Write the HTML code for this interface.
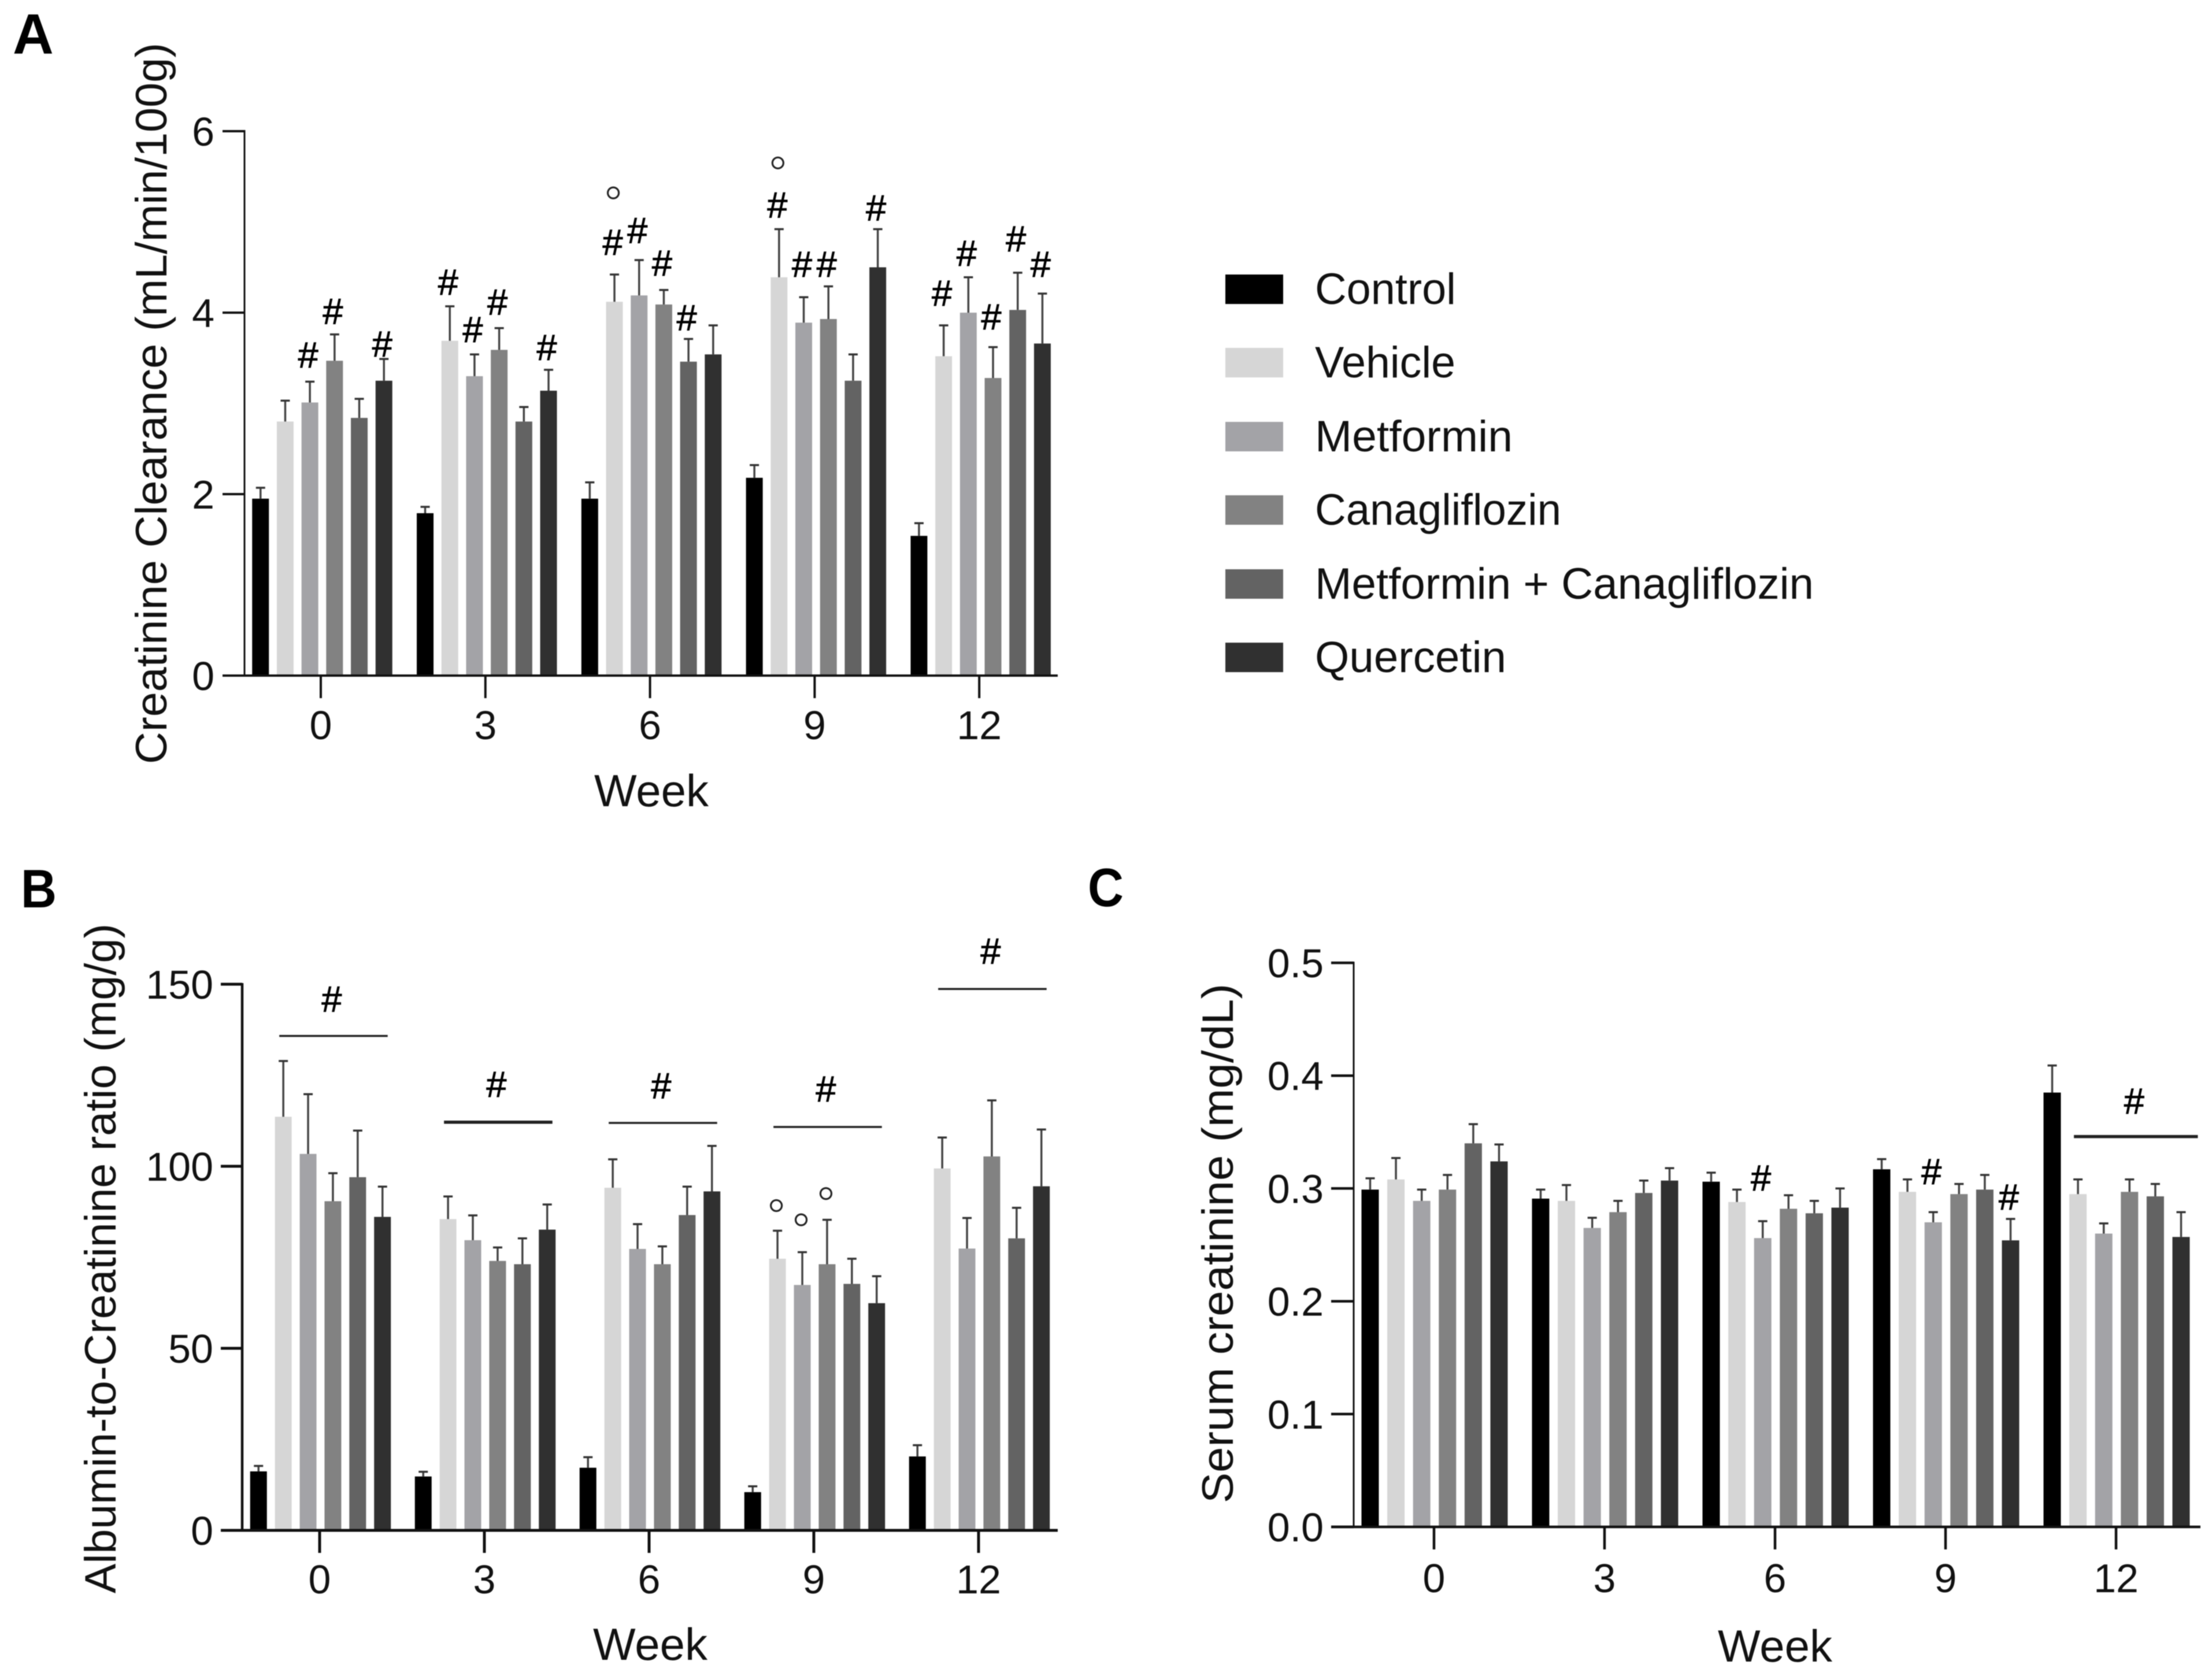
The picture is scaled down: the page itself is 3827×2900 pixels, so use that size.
<!DOCTYPE html>
<html lang="en">
<head>
<meta charset="utf-8">
<title>Renal function bar charts</title>
<style>
html,body{margin:0;padding:0;background:#fff;}
svg{display:block;font-family:"Liberation Sans",Arial,sans-serif;filter:blur(0.9px);}
</style>
</head>
<body>
<svg id="figure" xmlns="http://www.w3.org/2000/svg" width="3827" height="2900" viewBox="0 0 3827 2900">
  <rect x="0" y="0" width="3827" height="2900" fill="#ffffff"/>
  <text x="22" y="93" font-size="98" font-weight="700" fill="#000">A</text>
  <text x="36" y="1570" font-size="94" font-weight="700" textLength="62" lengthAdjust="spacingAndGlyphs" fill="#000">B</text>
  <text x="1882" y="1568" font-size="94" font-weight="700" textLength="62" lengthAdjust="spacingAndGlyphs" fill="#000">C</text>

  <text transform="translate(288,1322) rotate(-90)" font-size="76" textLength="1248" lengthAdjust="spacingAndGlyphs" fill="#111">Creatinine Clearance (mL/min/100g)</text>
  <text x="1127" y="1395" font-size="78" text-anchor="middle" fill="#111">Week</text>
  <text transform="translate(200,2757) rotate(-90)" font-size="76" textLength="1159" lengthAdjust="spacingAndGlyphs" fill="#111">Albumin-to-Creatinine ratio (mg/g)</text>
  <text x="1125" y="2872" font-size="78" text-anchor="middle" fill="#111">Week</text>
  <text transform="translate(2133,2601) rotate(-90)" font-size="76" textLength="899" lengthAdjust="spacingAndGlyphs" fill="#111">Serum creatinine (mg/dL)</text>
  <text x="3071" y="2875" font-size="78" text-anchor="middle" fill="#111">Week</text>

  <g id="legend">
    <rect x="2120" y="475" width="100" height="51" fill="#000000"/>
    <text x="2275" y="526" font-size="76" textLength="244" lengthAdjust="spacingAndGlyphs" fill="#111">Control</text>
    <rect x="2120" y="602" width="100" height="51" fill="#d6d6d6"/>
    <text x="2275" y="653" font-size="76" textLength="243" lengthAdjust="spacingAndGlyphs" fill="#111">Vehicle</text>
    <rect x="2120" y="730" width="100" height="51" fill="#a3a3a7"/>
    <text x="2275" y="781" font-size="76" textLength="342" lengthAdjust="spacingAndGlyphs" fill="#111">Metformin</text>
    <rect x="2120" y="857" width="100" height="51" fill="#828282"/>
    <text x="2275" y="908" font-size="76" textLength="426" lengthAdjust="spacingAndGlyphs" fill="#111">Canagliflozin</text>
    <rect x="2120" y="985" width="100" height="51" fill="#636363"/>
    <text x="2275" y="1036" font-size="76" textLength="863" lengthAdjust="spacingAndGlyphs" fill="#111">Metformin + Canagliflozin</text>
    <rect x="2120" y="1112" width="100" height="51" fill="#303030"/>
    <text x="2275" y="1163" font-size="76" textLength="331" lengthAdjust="spacingAndGlyphs" fill="#111">Quercetin</text>
  </g>
</svg>
<script>
// ---- shared categories ----
const weeks = ['0', '3', '6', '9', '12'];
const seriesNames = ['control', 'vehicle', 'metformin', 'canagliflozin', 'metformin-canagliflozin', 'quercetin'];
const seriesColors = ['#000000', '#d6d6d6', '#a3a3a7', '#828282', '#636363', '#303030'];

// ---- panel A: creatinine clearance ----
const clearanceTicks = ['0', '2', '4', '6'];
const clearanceMeans = [
  [1.95, 2.80, 3.01, 3.47, 2.84, 3.25],
  [1.79, 3.69, 3.30, 3.59, 2.80, 3.14],
  [1.95, 4.12, 4.19, 4.09, 3.46, 3.54],
  [2.18, 4.39, 3.89, 3.93, 3.25, 4.50],
  [1.54, 3.52, 4.00, 3.28, 4.03, 3.66]
];
const clearanceErrorTops = [
  [2.07, 3.03, 3.24, 3.76, 3.05, 3.49],
  [1.86, 4.07, 3.54, 3.83, 2.96, 3.37],
  [2.13, 4.42, 4.58, 4.25, 3.71, 3.86],
  [2.32, 4.92, 4.17, 4.29, 3.54, 4.92],
  [1.68, 3.86, 4.39, 3.62, 4.44, 4.21]
];
// [week index, series index, height in axis units]
const clearanceHashes = [
  [0,2,3.53],[0,3,4.01],[0,5,3.65],
  [1,1,4.33],[1,2,3.81],[1,3,4.11],[1,5,3.61],
  [2,1,4.77],[2,2,4.90],[2,3,4.54],[2,4,3.94],
  [3,1,5.18],[3,2,4.53],[3,3,4.53],[3,5,5.15],
  [4,1,4.21],[4,2,4.65],[4,3,3.95],[4,4,4.81],[4,5,4.53]
];
const clearanceCircles = [[2,1,5.32],[3,1,5.65]];
const clearanceBrackets = [];

// ---- panel B: albumin-to-creatinine ratio ----
const ratioTicks = ['0', '50', '100', '150'];
const ratioMeans = [
  [16.2, 113.6, 103.4, 90.4, 97.0, 86.1],
  [14.8, 85.5, 79.7, 74.0, 73.1, 82.6],
  [17.2, 94.1, 77.3, 73.1, 86.6, 93.1],
  [10.5, 74.6, 67.4, 73.1, 67.7, 62.4],
  [20.3, 99.4, 77.4, 102.7, 80.2, 94.5]
];
const ratioErrorTops = [
  [17.7, 128.9, 119.8, 98.1, 109.8, 94.4],
  [16.1, 91.7, 86.5, 77.7, 80.2, 89.5],
  [20.1, 101.9, 84.1, 78.0, 94.4, 105.6],
  [12.1, 82.3, 76.4, 85.3, 74.6, 69.8],
  [23.4, 107.9, 85.8, 118.1, 88.6, 110.1]
];
const ratioHashes = [];
const ratioCircles = [[3,1,89.2],[3,2,85.3],[3,3,92.5]];
// [week index, line height, hash height]
const ratioBrackets = [
  [0,135.8,145.8],[1,112.1,122.4],[2,111.9,122.0],[3,110.8,121.1],[4,148.7,159.0]
];

// ---- panel C: serum creatinine ----
const serumTicks = ['0.0', '0.1', '0.2', '0.3', '0.4', '0.5'];
const serumMeans = [
  [0.299, 0.308, 0.289, 0.299, 0.340, 0.324],
  [0.291, 0.289, 0.265, 0.279, 0.296, 0.307],
  [0.306, 0.288, 0.256, 0.282, 0.278, 0.283],
  [0.317, 0.297, 0.270, 0.295, 0.299, 0.254],
  [0.385, 0.295, 0.260, 0.297, 0.293, 0.257]
];
const serumErrorTops = [
  [0.309, 0.327, 0.299, 0.312, 0.357, 0.339],
  [0.299, 0.303, 0.274, 0.289, 0.307, 0.318],
  [0.314, 0.299, 0.271, 0.294, 0.289, 0.300],
  [0.326, 0.308, 0.279, 0.304, 0.312, 0.273],
  [0.409, 0.308, 0.269, 0.308, 0.304, 0.279]
];
const serumHashes = [[2,2,0.309],[3,2,0.3145],[3,5,0.292]];
const serumCircles = [];
const serumBrackets = [[4,0.346,0.377]];

const SVGNS = 'http://www.w3.org/2000/svg';
const figure = document.getElementById('figure');

function make(parent, tag, attrs, text) {
  const node = document.createElementNS(SVGNS, tag);
  for (const k in attrs) node.setAttribute(k, attrs[k]);
  if (text !== undefined) node.textContent = text;
  parent.appendChild(node);
  return node;
}

function drawPanel(p) {
  const group = make(figure, 'g', {});
  
  

  const tickValues = p.ticks.map(Number);
  const domainMax = tickValues[tickValues.length - 1];
  const yScale = function (v) { return p.y0 - (v / domainMax) * (p.y0 - p.yTop); };
  const tickX = function (g) { return p.firstTick + g * p.tickStep; };
  const barX = function (g, s) { return tickX(g) + p.barShift + (s - 2.5) * p.barPitch; };

  // bars and error bars
  p.means.forEach(function (row, g) {
    row.forEach(function (value, s) {
      const cx = barX(g, s);
      const bar = make(group, 'rect', {
        x: cx - p.barWidth / 2, y: yScale(value),
        width: p.barWidth, height: p.y0 - yScale(value),
        fill: seriesColors[s]
      });
      
      

      const top = yScale(p.errorTops[g][s]);
      const stem = make(group, 'line', {
        x1: cx, x2: cx, y1: top, y2: yScale(value),
        stroke: '#444444', 'stroke-width': 3.5
      });
      
      

      const cap = make(group, 'line', {
        x1: cx - 8, x2: cx + 8, y1: top, y2: top,
        stroke: '#333333', 'stroke-width': 3.5
      });
      
      
    });
  });

  // axes
  const yAxis = make(group, 'line', {
    x1: p.axisX, x2: p.axisX, y1: p.yTop - 2, y2: p.y0 + 2,
    stroke: '#111', 'stroke-width': p.yAxisWidth
  });
  
  

  const xAxis = make(group, 'line', {
    x1: p.axisX - p.tickLen, x2: p.axisEnd, y1: p.y0, y2: p.y0,
    stroke: '#111', 'stroke-width': p.axisWidth
  });
  
  

  // y ticks
  p.ticks.forEach(function (label, i) {
    const y = yScale(tickValues[i]);
    const tick = make(group, 'line', {
      x1: p.axisX - p.tickLen, x2: p.axisX, y1: y, y2: y,
      stroke: '#111', 'stroke-width': p.axisWidth
    });
    
    

    const text = make(group, 'text', {
      x: p.labelRight, y: y + 25, 'font-size': p.tickFont,
      'text-anchor': 'end', fill: '#111'
    }, label);
    
    
  });

  // x ticks
  weeks.forEach(function (label, g) {
    const x = tickX(g);
    const tick = make(group, 'line', {
      x1: x, x2: x, y1: p.y0, y2: p.y0 + 39,
      stroke: '#111', 'stroke-width': p.axisWidth
    });
    
    

    const text = make(group, 'text', {
      x: x, y: p.xLabelY, 'font-size': p.tickFont,
      'text-anchor': 'middle', fill: '#111'
    }, label);
    
    
  });

  // significance hashes
  p.hashes.forEach(function (h) {
    const mark = make(group, 'text', {
      x: barX(h[0], h[1]) - 3, y: yScale(h[2]) + 21, 'font-size': 63,
      'text-anchor': 'middle', fill: '#000', stroke: '#000', 'stroke-width': 1
    }, '#');
    
    
  });

  // significance circles
  p.circles.forEach(function (c) {
    const mark = make(group, 'circle', {
      cx: barX(c[0], c[1]) - 2, cy: yScale(c[2]), r: 9.5,
      fill: 'none', stroke: '#222', 'stroke-width': 3.2
    });
    
    
  });

  // brackets with hash
  p.brackets.forEach(function (b) {
    const x1 = barX(b[0], 1) + p.bracketLeft;
    const x2 = barX(b[0], 5) + p.bracketRight;
    const line = make(group, 'line', {
      x1: x1, x2: x2, y1: yScale(b[1]), y2: yScale(b[1]),
      stroke: '#222', 'stroke-width': p.thickBracketWeeks.indexOf(b[0]) >= 0 ? 5.5 : 3.5
    });
    
    

    const mark = make(group, 'text', {
      x: (x1 + x2) / 2 - 3, y: yScale(b[2]) + 21, 'font-size': 63,
      'text-anchor': 'middle', fill: '#000', stroke: '#000', 'stroke-width': 1
    }, '#');
    
    
  });
}

drawPanel({
  id: 'panel-a', ticks: clearanceTicks, means: clearanceMeans, errorTops: clearanceErrorTops,
  hashes: clearanceHashes, circles: clearanceCircles, brackets: clearanceBrackets,
  y0: 1169, yTop: 227, axisX: 423, axisEnd: 1830, axisWidth: 4, yAxisWidth: 3, tickLen: 38,
  firstTick: 555, tickStep: 284.8, barShift: 2.5, barPitch: 42.7, barWidth: 29,
  labelRight: 371, xLabelY: 1279, tickFont: 70, bracketLeft: 0, bracketRight: 0, thickBracketWeeks: []
});
drawPanel({
  id: 'panel-b', ticks: ratioTicks, means: ratioMeans, errorTops: ratioErrorTops,
  hashes: ratioHashes, circles: ratioCircles, brackets: ratioBrackets,
  y0: 2648, yTop: 1703, axisX: 419, axisEnd: 1830, axisWidth: 5, yAxisWidth: 4.5, tickLen: 37,
  firstTick: 553, tickStep: 285, barShift: 1.5, barPitch: 42.9, barWidth: 29,
  labelRight: 369, xLabelY: 2757, tickFont: 70, bracketLeft: -7, bracketRight: 9, thickBracketWeeks: [1]
});
drawPanel({
  id: 'panel-c', ticks: serumTicks, means: serumMeans, errorTops: serumErrorTops,
  hashes: serumHashes, circles: serumCircles, brackets: serumBrackets,
  y0: 2642, yTop: 1666, axisX: 2342, axisEnd: 3807, axisWidth: 4.5, yAxisWidth: 3, tickLen: 39,
  firstTick: 2481, tickStep: 295, barShift: 1, barPitch: 44.6, barWidth: 30,
  labelRight: 2290, xLabelY: 2755, tickFont: 70, bracketLeft: -7, bracketRight: 29, thickBracketWeeks: [4]
});
</script>
</body>
</html>
